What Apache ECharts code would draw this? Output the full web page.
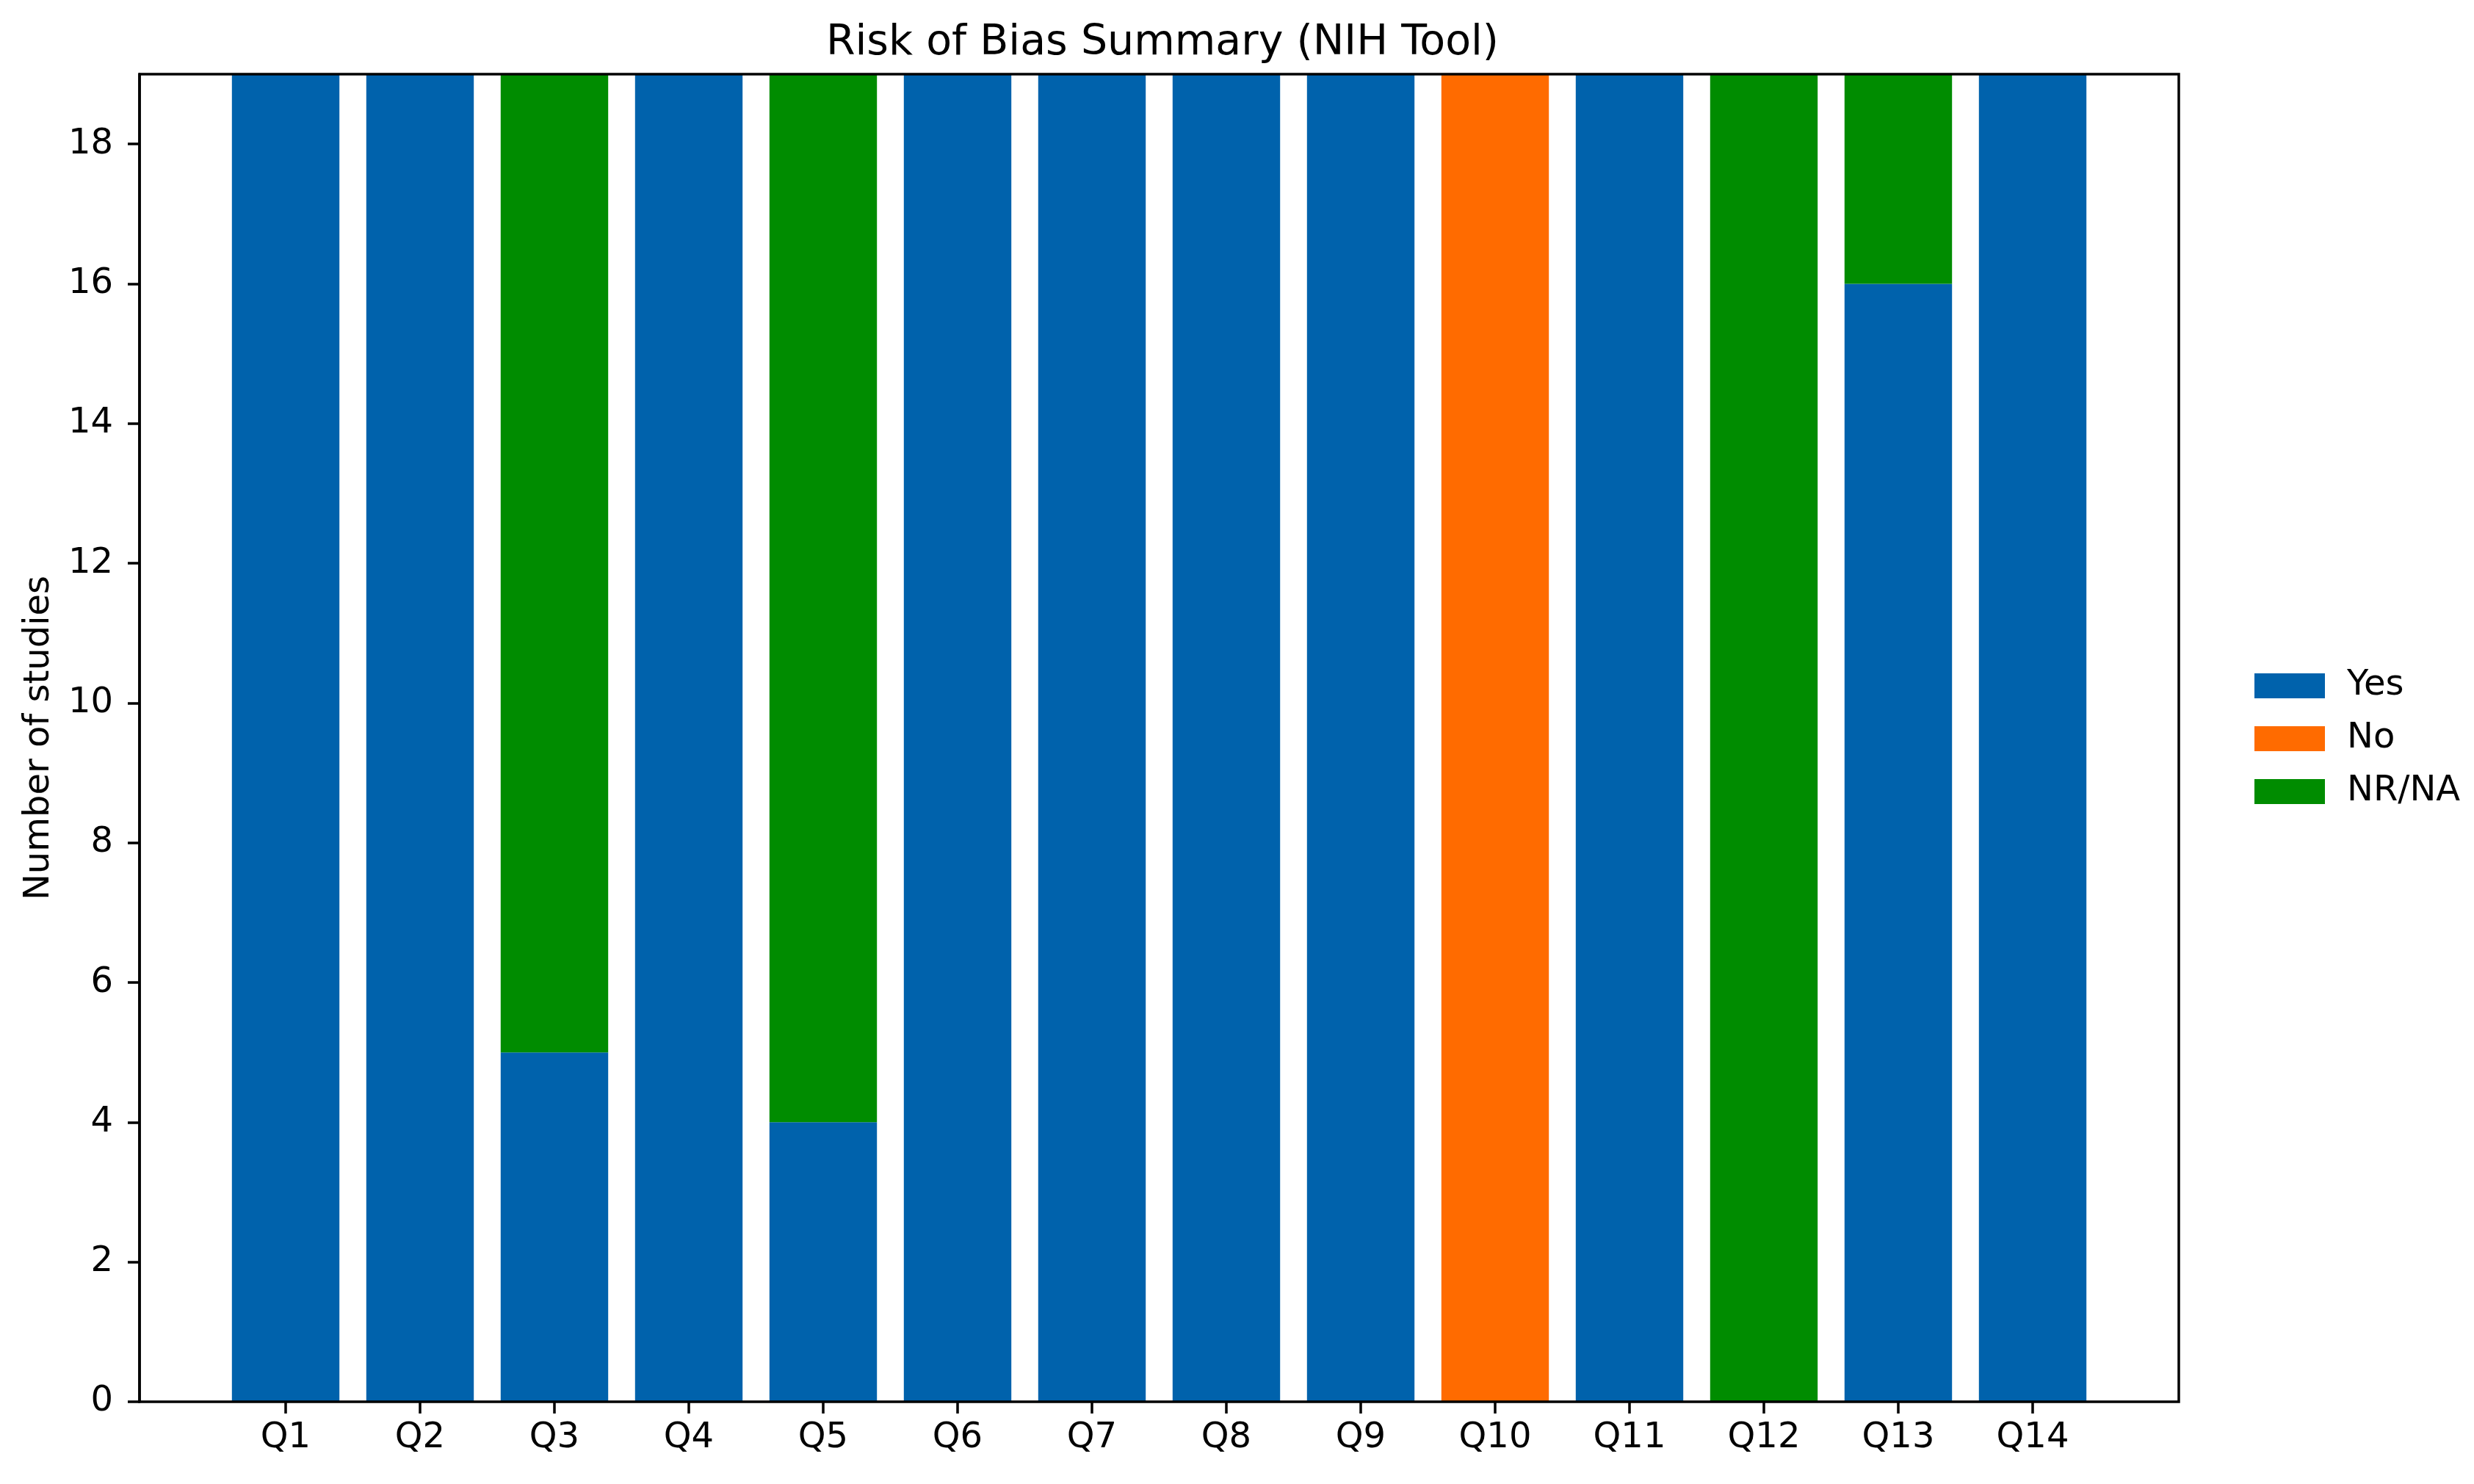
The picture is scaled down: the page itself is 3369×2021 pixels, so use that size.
<!DOCTYPE html>
<html>
<head>
<meta charset="utf-8">
<script src="https://cdn.jsdelivr.net/npm/echarts@6/dist/echarts.min.js"></script>
<style>
html,body{margin:0;padding:0;background:#fff;}
#chart{width:3369px;height:2021px;}
</style>
</head>
<body>
<div id="chart"></div>
<script>
const categories = ['Q1','Q2','Q3','Q4','Q5','Q6','Q7','Q8','Q9','Q10','Q11','Q12','Q13','Q14'];
const yesValues  = [19,19,5,19,4,19,19,19,19,0,19,0,16,19];
const noValues   = [0,0,0,0,0,0,0,0,0,19,0,0,0,0];
const nrnaValues = [0,0,14,0,15,0,0,0,0,0,0,19,3,0];
const yTickLabels = [0,2,4,6,8,10,12,14,16,18];
const seriesNames = ['Yes','No','NR/NA'];
const colors = ['#0062ac','#ff6b00','#008c00'];

const FONT = 'DejaVu Sans';
const chart = echarts.init(document.getElementById('chart'), null, {renderer:'canvas'});

const frame = {left:190, right:402, top:101, bottom:112};
const inset = 107.5;

chart.setOption({
  animation:false,
  backgroundColor:'#ffffff',
  title:{
    text:'Risk of Bias Summary (NIH Tool)',
    left:1578, textAlign:'center', top:26,
    textStyle:{fontFamily:FONT, fontSize:57, fontWeight:'normal', color:'#000'}
  },
  legend:{
    orient:'vertical', left:3065, top:905,
    itemWidth:96, itemHeight:34, itemGap:24,
    icon:'rect',
    data:seriesNames,
    textStyle:{fontFamily:FONT, fontSize:48, color:'#000', padding:[0,0,0,25]}
  },
  grid:[
    {left:frame.left, right:frame.right, top:frame.top, bottom:frame.bottom,
     show:true, borderColor:'#000', borderWidth:3.5, backgroundColor:'transparent', z:5},
    {left:frame.left+inset, right:frame.right+inset, top:frame.top, bottom:frame.bottom}
  ],
  xAxis:[
    {gridIndex:0, type:'value', min:0, max:1, show:false},
    {gridIndex:1, type:'category', data:categories,
     axisLine:{show:false},
     axisTick:{show:true, alignWithLabel:true, length:16, lineStyle:{color:'#000', width:3.5}},
     axisLabel:{fontFamily:FONT, fontSize:48, color:'#000', margin:26},
     splitLine:{show:false}}
  ],
  yAxis:[
    {gridIndex:0, type:'value', min:0, max:19,
     name:'Number of studies', nameLocation:'middle', nameGap:112,
     nameTextStyle:{fontFamily:FONT, fontSize:48, color:'#000'},
     axisLine:{show:true, lineStyle:{color:'#000', width:3.5}},
     axisTick:{show:true, length:16, lineStyle:{color:'#000', width:3.5}, customValues:yTickLabels},
     axisLabel:{fontFamily:FONT, fontSize:48, color:'#000', margin:36, customValues:yTickLabels},
     splitLine:{show:false}},
    {gridIndex:1, type:'value', min:0, max:19, show:false, splitLine:{show:false}}
  ],
  series:[
    {name:seriesNames[0], type:'bar', stack:'s', xAxisIndex:1, yAxisIndex:1, barWidth:'80%', data:yesValues, itemStyle:{color:colors[0]}},
    {name:seriesNames[1], type:'bar', stack:'s', xAxisIndex:1, yAxisIndex:1, barWidth:'80%', data:noValues, itemStyle:{color:colors[1]}},
    {name:seriesNames[2], type:'bar', stack:'s', xAxisIndex:1, yAxisIndex:1, barWidth:'80%', data:nrnaValues, itemStyle:{color:colors[2]}}
  ]
});
</script>
</body>
</html>
